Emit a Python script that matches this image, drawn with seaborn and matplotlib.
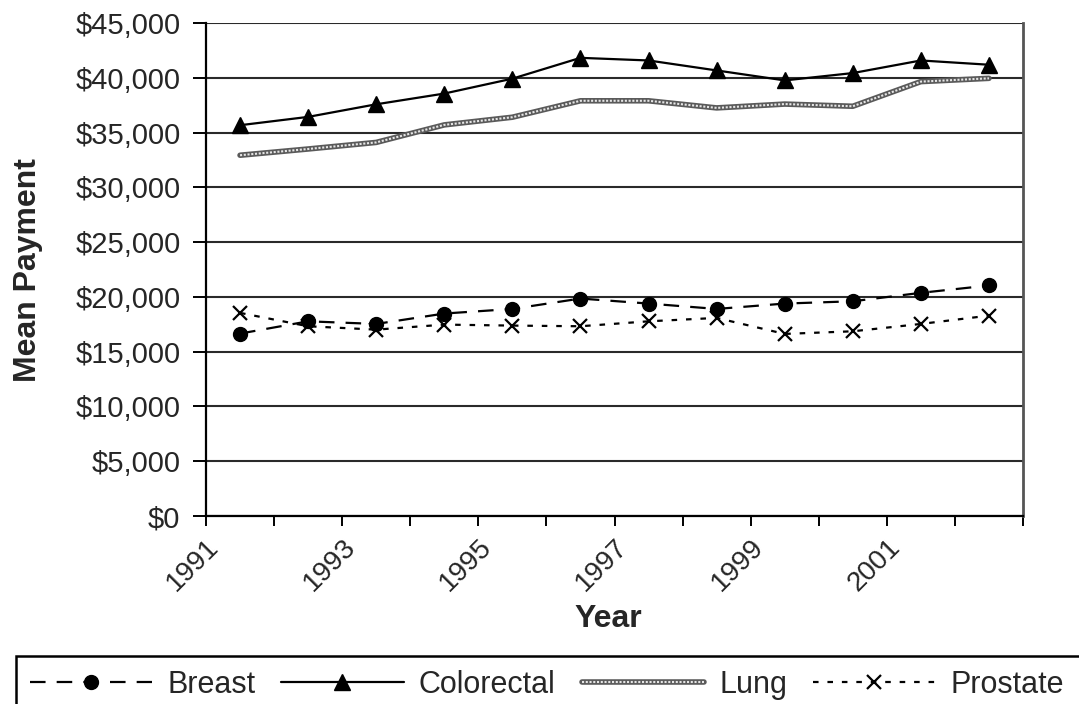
import numpy as np
import pandas as pd
import matplotlib
matplotlib.use("Agg")
import matplotlib.pyplot as plt
from matplotlib.patches import Rectangle
from matplotlib.legend_handler import HandlerTuple
import seaborn as sns

# ---- data ----
years = [1991, 1992, 1993, 1994, 1995, 1996, 1997, 1998, 1999, 2000, 2001, 2002]
breast = [16650, 17770, 17530, 18480, 18900, 19850, 19390, 18900, 19390, 19600, 20370, 21040]
colorectal = [35670, 36430, 37580, 38560, 39920, 41820, 41580, 40670, 39760, 40430, 41580, 41190]
lung = [32930, 33500, 34100, 35700, 36400, 37900, 37900, 37250, 37600, 37400, 39650, 39950]
prostate = [18540, 17320, 17010, 17470, 17380, 17320, 17770, 18080, 16620, 16860, 17530, 18290]
tick_years = list(range(1991, 2004))
tick_labels = ["1991", "", "1993", "", "1995", "", "1997", "", "1999", "", "2001", "", ""]
y_ticks = list(range(0, 45001, 5000))
series_names = ["Breast", "Colorectal", "Lung", "Prostate"]

sns.set_style("white")
plt.rcParams["font.family"] = ["Liberation Sans", "DejaVu Sans"]

W, H = 1079, 704
fig = plt.figure(figsize=(W / 100, H / 100), dpi=100)
ax = fig.add_axes([206 / W, 1 - 516 / H, (1023 - 206) / W, (516 - 23) / H])

# categories centred between year ticks
xpos = [y + 0.5 for y in years]

sns.lineplot(x=xpos, y=breast, ax=ax, color="black", lw=1.6, linestyle=(0, (7, 5)),
             marker="o", markersize=10, markeredgecolor="black", markerfacecolor="black",
             markeredgewidth=1, errorbar=None, sort=False, zorder=5)
sns.lineplot(x=xpos, y=colorectal, ax=ax, color="black", lw=1.6, linestyle="-",
             marker="^", markersize=12, markeredgecolor="black", markerfacecolor="black",
             markeredgewidth=1, errorbar=None, sort=False, zorder=5)
sns.lineplot(x=xpos, y=lung, ax=ax, color="#5a5a5a", lw=4.0, linestyle="-",
             errorbar=None, sort=False, zorder=4)
sns.lineplot(x=xpos, y=lung, ax=ax, color="#e6e6e6", lw=1.5, linestyle=(0, (1.0, 0.8)),
             errorbar=None, sort=False, zorder=4.5)
sns.lineplot(x=xpos, y=prostate, ax=ax, color="black", lw=1.6, linestyle=(0, (2.5, 4)),
             marker="x", markersize=10, markeredgecolor="black", markeredgewidth=1.6,
             errorbar=None, sort=False, zorder=5)

lines = ax.get_lines()

ax.set_xlim(1991, 2003)
ax.set_ylim(0, 45000)
ax.set_yticks(y_ticks)
ax.set_yticklabels([f"${v:,.0f}" for v in y_ticks])
ax.set_xticks(tick_years)
ax.set_xticklabels(tick_labels, rotation=45, ha="right", va="top", rotation_mode="anchor")

ax.yaxis.grid(True, color="#2a2a2a", lw=1.5)
ax.xaxis.grid(False)
ax.set_axisbelow(True)
for s in ["left", "bottom"]:
    ax.spines[s].set_color("black")
    ax.spines[s].set_linewidth(1.6)
ax.spines["top"].set_visible(False)
ax.spines["right"].set_color("#555555")
ax.spines["right"].set_linewidth(2.0)

ax.tick_params(axis="y", direction="out", length=9.4, width=1.4, color="black",
               labelsize=21, pad=9, left=True)
ax.tick_params(axis="x", direction="out", length=7, width=1.4, color="black",
               labelsize=20, pad=6, bottom=True)

ax.set_xlabel("Year", fontsize=23, fontweight="bold")
ax.xaxis.label.set_va("center")
ax.xaxis.set_label_coords(0.492, -0.209)
ax.set_ylabel("Mean Payment", fontsize=23, fontweight="bold")
ax.yaxis.label.set_va("center")
ax.yaxis.set_label_coords(-0.218, 0.499)

handles = [lines[0], lines[1], (lines[2], lines[3]), lines[4]]
leg = ax.legend(handles, series_names, loc="upper left",
                bbox_to_anchor=(16 / W, 1 - 656 / H), bbox_transform=fig.transFigure,
                ncol=4, frameon=False,
                fontsize=22, handlelength=4.0, handletextpad=0.5, columnspacing=0.85,
                borderpad=0.45, borderaxespad=0, numpoints=1,
                handler_map={tuple: HandlerTuple(ndivide=1)})

# legend box (runs off the right and bottom edges of the figure, as in the source)
fig.patches.append(Rectangle((16 / W, 1 - 740 / H), (1120 - 16) / W, (740 - 656) / H,
                             transform=fig.transFigure, fill=False, edgecolor="black",
                             lw=1.8, clip_on=False))

fig.savefig("out.png", dpi=100)
